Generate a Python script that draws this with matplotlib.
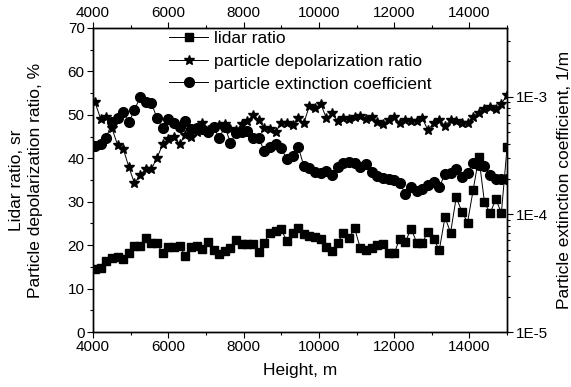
import matplotlib
matplotlib.use("Agg")
import matplotlib.pyplot as plt
import numpy as np
from matplotlib.ticker import MultipleLocator, FixedLocator, FuncFormatter, LogLocator, NullFormatter

plt.rcParams['font.family'] = ['Liberation Sans', 'DejaVu Sans']

# heights, m (150 m step)
height = np.arange(4050, 15001, 150)

# lidar ratio, sr
lidar_ratio = [
    14.6, 14.8, 16.3, 17.0, 17.3, 16.9, 18.2, 19.7, 19.8, 21.7,
    20.5, 20.4, 18.1, 19.5, 19.6, 19.7, 17.5, 19.6, 19.7, 19.1,
    20.8, 18.8, 17.9, 18.6, 19.3, 21.2, 20.2, 20.3, 20.3, 18.5,
    20.6, 22.9, 23.2, 23.6, 20.9, 22.8, 24.0, 22.5, 22.2, 21.9,
    21.4, 19.6, 18.7, 20.6, 22.7, 21.6, 23.9, 19.3, 18.9, 19.4,
    20.1, 20.2, 18.3, 18.1, 21.5, 20.8, 23.8, 20.6, 20.6, 23.1,
    21.4, 18.9, 26.4, 22.9, 31.0, 27.7, 25.2, 32.7, 40.2, 29.9,
    27.3, 30.6, 27.4, 42.5,
]

# particle depolarization ratio, %
depol_ratio = [
    52.9, 49.1, 49.6, 46.9, 43.1, 42.2, 38.0, 34.2, 36.2, 37.5,
    37.5, 40.1, 43.2, 44.4, 45.0, 43.2, 45.4, 45.0, 46.0, 48.2,
    46.5, 47.3, 47.7, 47.8, 46.7, 46.4, 47.8, 48.6, 49.9, 48.8,
    46.9, 46.7, 46.0, 48.1, 48.2, 47.7, 49.2, 48.1, 52.1, 51.6,
    52.5, 49.2, 50.4, 48.5, 49.2, 49.1, 49.4, 49.8, 49.1, 49.4,
    48.3, 47.9, 48.8, 49.4, 48.2, 48.8, 48.6, 48.6, 49.2, 46.4,
    48.2, 48.8, 47.5, 48.8, 48.5, 48.2, 48.2, 49.6, 50.5, 51.3,
    51.8, 51.3, 52.5, 54.6,
]

# particle extinction coefficient, 1/m
extinction = [
    3.84e-4, 3.94e-4, 4.43e-4, 6.14e-4, 6.56e-4, 7.38e-4, 6.06e-4, 7.73e-4, 9.91e-4, 8.98e-4,
    8.81e-4, 6.56e-4, 5.40e-4, 6.44e-4, 6.03e-4, 5.57e-4, 6.27e-4, 5.30e-4, 5.40e-4, 5.30e-4,
    5.00e-4, 5.57e-4, 4.43e-4, 5.57e-4, 4.07e-4, 4.89e-4, 4.99e-4, 5.15e-4, 4.43e-4, 4.43e-4,
    3.48e-4, 3.77e-4, 3.97e-4, 3.65e-4, 2.94e-4, 3.12e-4, 3.77e-4, 2.58e-4, 2.47e-4, 2.28e-4,
    2.23e-4, 2.36e-4, 2.16e-4, 2.51e-4, 2.72e-4, 2.81e-4, 2.75e-4, 2.51e-4, 2.68e-4, 2.31e-4,
    2.12e-4, 2.05e-4, 2.00e-4, 1.96e-4, 1.84e-4, 1.49e-4, 1.70e-4, 1.58e-4, 1.63e-4, 1.78e-4,
    1.90e-4, 1.70e-4, 2.21e-4, 2.23e-4, 2.42e-4, 2.09e-4, 2.23e-4, 2.75e-4, 2.63e-4, 2.58e-4,
    2.16e-4, 1.99e-4, 1.99e-4, 1.99e-4,
]

fig = plt.figure(figsize=(5.71, 3.87), dpi=100)
ax = fig.add_axes([0.163, 0.142, 0.725, 0.786])
ax2 = ax.twinx()

l1, = ax.plot(height, lidar_ratio, color='black', lw=0.7, marker='s', ms=5.5,
              label='lidar ratio')
l2, = ax.plot(height, depol_ratio, color='black', lw=0.7, marker='*', ms=7.5,
              label='particle depolarization ratio')
l3, = ax2.plot(height, extinction, color='black', lw=0.7, marker='o', ms=7,
               label='particle extinction coefficient')

fs = 11
lfs = 12.5
ax.set_xlim(4000, 15000)
ax.set_ylim(0, 70)
ax.xaxis.set_major_locator(MultipleLocator(2000))
ax.xaxis.set_minor_locator(MultipleLocator(1000))
ax.yaxis.set_major_locator(MultipleLocator(10))
ax.yaxis.set_minor_locator(MultipleLocator(5))
ax.tick_params(axis='x', which='both', top=True, labeltop=True, direction='out')
ax.tick_params(axis='y', which='both', right=False, direction='out')
ax.tick_params(which='major', length=4, width=0.8, labelsize=fs, pad=2)
ax.tick_params(which='minor', length=2.5, width=0.8)

ax2.set_yscale('log')
ax2.set_ylim(1e-5, 3.85e-3)
ax2.yaxis.set_major_locator(FixedLocator([1e-5, 1e-4, 1e-3]))
ax2.yaxis.set_major_formatter(FuncFormatter(lambda v, p: '1E%d' % round(np.log10(v))))
ax2.yaxis.set_minor_locator(LogLocator(base=10, subs=np.arange(2, 10)))
ax2.yaxis.set_minor_formatter(NullFormatter())
ax2.tick_params(axis='y', which='both', direction='out')
ax2.tick_params(which='major', length=4, width=0.8, labelsize=fs, pad=2)
ax2.tick_params(which='minor', length=2.5, width=0.8)

for a in (ax, ax2):
    for s in a.spines.values():
        s.set_linewidth(1.0)

ax.set_xlabel('Height, m', fontsize=lfs, labelpad=6)
ax.set_ylabel('Lidar ratio, sr\nParticle depolarization ratio, %', fontsize=lfs,
              labelpad=18, linespacing=1.35)
ax2.set_ylabel('Particle extinction coefficient, 1/m', fontsize=lfs, labelpad=7)

ax.legend(handles=[l1, l2, l3], loc='upper left', bbox_to_anchor=(0.176, 1.0),
          frameon=False, fontsize=lfs, handlelength=2.3, handletextpad=0.3,
          labelspacing=0.45, borderaxespad=0.0, borderpad=0.15)

fig.savefig('out.png', dpi=100)
